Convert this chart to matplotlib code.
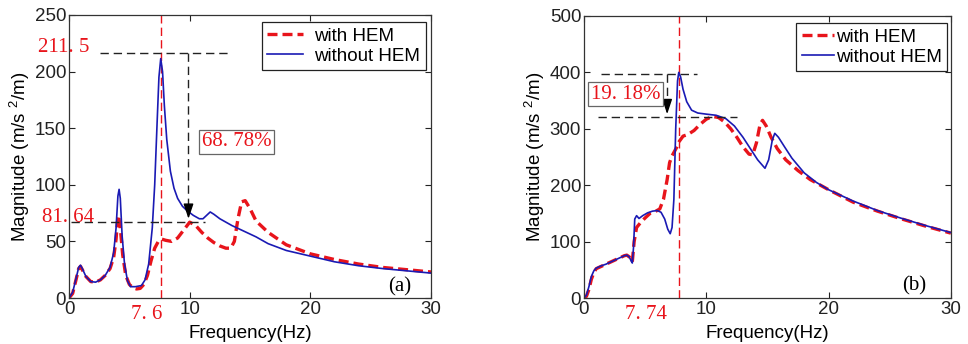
import matplotlib
matplotlib.use("Agg")
import matplotlib.pyplot as plt

plt.rcParams["font.family"] = ["Liberation Sans", "DejaVu Sans"]
plt.rcParams["mathtext.fontset"] = "custom"
plt.rcParams["mathtext.rm"] = "Liberation Sans"
plt.rcParams["mathtext.it"] = "Liberation Sans"

# ---- panel (a) ----
f_a_wo = [0, 0.3, 0.6, 0.8, 0.95, 1.1, 1.4, 1.8, 2.2, 2.6, 3.0, 3.4, 3.7, 3.9, 4.05,
          4.15, 4.25, 4.4, 4.6, 4.85, 5.1, 5.5, 6.0, 6.3, 6.6, 6.9, 7.1, 7.3, 7.45,
          7.6, 7.75, 7.9, 8.1, 8.4, 8.7, 9.0, 9.4, 9.8, 10.3, 10.8, 11.1, 11.4, 11.7,
          12.0, 12.5, 13.5, 14.5, 15.5, 16.5, 18, 20, 22, 24, 26, 28, 30]
m_a_wo = [0, 5, 18, 27, 29, 26, 19, 14.5, 14, 16, 20, 27, 40, 62, 90,
          96, 88, 55, 30, 15, 10, 10, 11, 16, 30, 62, 100, 155, 195,
          211.5, 200, 170, 140, 112, 97, 88, 81, 77, 73, 70, 70, 73, 76,
          74, 70, 64, 59, 54, 48, 42, 37, 32, 28.5, 26, 24, 22]

f_a_w = [0, 0.3, 0.6, 0.8, 0.95, 1.1, 1.4, 1.8, 2.2, 2.6, 3.0, 3.4, 3.7, 3.9, 4.0,
         4.1, 4.25, 4.45, 4.7, 5.0, 5.3, 5.6, 5.9, 6.2, 6.5, 6.8, 7.1, 7.4, 7.7,
         8.0, 8.5, 9.0, 9.5, 10.0, 10.5, 11.0, 11.5, 12.0, 12.5, 13.0, 13.4, 13.7,
         14.0, 14.3, 14.6, 15.0, 15.5, 16.5, 18, 20, 22, 24, 26, 28, 30]
m_a_w = [0, 4, 17, 26, 28, 25, 19, 14.5, 14, 16, 20, 26, 36, 52, 66,
         73, 62, 38, 20, 12, 9, 8, 8.5, 12, 20, 33, 44, 50, 52,
         51, 50, 53, 60, 67, 64, 58, 53, 49, 46, 44, 44, 50,
         70, 85, 86, 79, 68, 58, 47, 39, 34, 30, 27, 25, 23]

# ---- panel (b) ----
f_b_wo = [0, 0.2, 0.4, 0.6, 0.8, 1.0, 1.4, 1.8, 2.2, 2.6, 3.0, 3.3, 3.5, 3.7, 3.85,
          3.95, 4.05, 4.15, 4.3, 4.5, 4.8, 5.2, 5.6, 6.0, 6.3, 6.6, 6.85, 7.05, 7.2,
          7.35, 7.5, 7.65, 7.75, 7.9, 8.1, 8.4, 8.8, 9.3, 10.0, 10.8, 11.6, 12.3,
          13.0, 13.6, 14.2, 14.8, 15.1, 15.4, 15.6, 15.9, 16.4, 17.0, 18.0, 19.0,
          20.0, 22.0, 24.0, 26.0, 28.0, 30.0]
m_b_wo = [0, 5, 20, 38, 48, 53, 57, 60, 64, 68, 72, 75, 76, 73, 66,
          62, 90, 140, 146, 141, 146, 151, 154, 155, 152, 140, 122, 114, 125,
          175, 300, 385, 400, 392, 370, 348, 333, 328, 326, 324, 318, 305,
          285, 265, 245, 230, 245, 280, 292, 285, 268, 248, 222, 205,
          192, 172, 155, 141, 128, 116]

f_b_w = [0, 0.2, 0.4, 0.6, 0.8, 1.0, 1.4, 1.8, 2.2, 2.6, 3.0, 3.3, 3.5, 3.7, 3.85,
         3.95, 4.1, 4.3, 4.6, 5.0, 5.4, 5.8, 6.2, 6.5, 6.8, 7.0, 7.2, 7.4, 7.6,
         7.8, 8.1, 8.5, 9.0, 9.5, 10.0, 10.5, 11.0, 11.5, 12.0, 12.5, 13.0, 13.5,
         13.8, 14.1, 14.4, 14.6, 14.9, 15.3, 15.8, 16.5, 17.5, 18.5, 20.0, 22.0,
         24.0, 26.0, 28.0, 30.0]
m_b_w = [0, 3, 15, 33, 45, 52, 56, 60, 64, 68, 72, 75, 76, 73, 67,
         64, 100, 125, 133, 142, 150, 153, 158, 175, 210, 240, 252, 260, 268,
         278, 287, 290, 297, 308, 317, 322, 320, 312, 300, 285, 268, 255,
         254, 275, 308, 315, 305, 285, 265, 245, 226, 210, 192, 170,
         154, 140, 127, 115]

# annotation values
peak_a, reduced_a, f_peak_a, pct_a = "211. 5", "81. 64", 7.6, "68. 78%"
f_peak_b, pct_b = 7.74, "19. 18%"
label_a, label_b = "7. 6", "7. 74"
line_a = [216.5, 67.5]
line_b = [397, 321]

RED = "#e8141b"
BLUE = "#1a1ab4"
serif = ["Liberation Serif", "DejaVu Serif"]

fig = plt.figure(figsize=(9.68, 3.44), dpi=100)
ax1 = fig.add_axes([0.0713, 0.1337, 0.374, 0.8227])
ax2 = fig.add_axes([0.6033, 0.1337, 0.379, 0.8198])


def style(ax, ymax, ystep):
    ax.set_xlim(0, 30)
    ax.set_ylim(0, ymax)
    ax.set_xticks([0, 10, 20, 30])
    ax.set_yticks(range(0, ymax + 1, ystep))
    ax.tick_params(direction="in", top=True, right=True, labelsize=13.5,
                   length=4, width=0.8, colors="#222222", pad=2)
    for s in ax.spines.values():
        s.set_color("#333333")
        s.set_linewidth(0.9)
    ax.set_xlabel("Frequency(Hz)", fontsize=13.5, labelpad=5)
    ax.set_ylabel("Magnitude (m/s $^{2}$/m)", fontsize=13.5, labelpad=2)


# ---- (a) ----
ax1.plot(f_a_w, m_a_w, "--", color=RED, lw=2.4, dashes=(3, 1.5), label="with HEM")
ax1.plot(f_a_wo, m_a_wo, "-", color=BLUE, lw=1.2, label="without HEM")
style(ax1, 250, 50)
ax1.axvline(f_peak_a, color=RED, lw=1, ls=(0, (6, 3)), zorder=1)
ax1.plot([2.6, 13.2], [line_a[0]] * 2, color="#222222", lw=1, ls=(0, (6, 3.5)))
ax1.plot([0.2, 11.3], [line_a[1]] * 2, color="#222222", lw=1, ls=(0, (6, 3.5)))
ax1.plot([9.9, 9.9], [line_a[0], line_a[1] + 8], color="#222222", lw=1, ls=(0, (6, 3.5)))
ax1.annotate("", xy=(9.9, line_a[1]), xytext=(9.9, line_a[1] + 10),
             arrowprops=dict(arrowstyle="-|>,head_width=0.3,head_length=0.9",
                             color="black", lw=1))
ax1.text(-0.45, line_a[0] + 4.5, peak_a, color=RED, fontsize=15, family=serif,
         ha="center", va="center", clip_on=False)
ax1.text(-0.1, line_a[1] + 4, reduced_a, color=RED, fontsize=15, family=serif,
         ha="center", va="center", clip_on=False)
ax1.text(13.9, 138, pct_a, color=RED, fontsize=15, family=serif, ha="center", va="center",
         bbox=dict(boxstyle="square,pad=0.12", fc="white", ec="#666666", lw=0.9))
ax1.text(6.4, -0.057, label_a, color=RED, fontsize=15, family=serif,
         ha="center", va="center", transform=ax1.get_xaxis_transform())
ax1.text(27.4, 10, "(a)", color="black", fontsize=15, family=serif, ha="center", va="center")
leg1 = ax1.legend(loc="upper right", fontsize=13.5, handlelength=1.9, handletextpad=0.6,
                  borderpad=0.3, labelspacing=0.15, fancybox=False, framealpha=1,
                  bbox_to_anchor=(0.985, 0.975), borderaxespad=0)
leg1.get_frame().set_edgecolor("#222222")
leg1.get_frame().set_linewidth(0.9)

# ---- (b) ----
ax2.plot(f_b_w, m_b_w, "--", color=RED, lw=2.4, dashes=(3, 1.5), label="with HEM")
ax2.plot(f_b_wo, m_b_wo, "-", color=BLUE, lw=1.2, label="without HEM")
style(ax2, 500, 100)
ax2.axvline(f_peak_b, color=RED, lw=1, ls=(0, (6, 3)), zorder=1)
ax2.plot([1.4, 9.2], [line_b[0]] * 2, color="#222222", lw=1, ls=(0, (6, 3.5)))
ax2.plot([1.15, 12.5], [line_b[1]] * 2, color="#222222", lw=1, ls=(0, (6, 3.5)))
ax2.plot([6.8, 6.8], [line_b[0], line_b[1] + 15], color="#222222", lw=1, ls=(0, (6, 3.5)))
ax2.annotate("", xy=(6.8, line_b[1]), xytext=(6.8, line_b[1] + 20),
             arrowprops=dict(arrowstyle="-|>,head_width=0.3,head_length=0.9",
                             color="black", lw=1))
ax2.text(3.4, 361, pct_b, color=RED, fontsize=15, family=serif, ha="center", va="center",
         bbox=dict(boxstyle="square,pad=0.12", fc="white", ec="#666666", lw=0.9))
ax2.text(5.1, -0.057, label_b, color=RED, fontsize=15, family=serif,
         ha="center", va="center", transform=ax2.get_xaxis_transform())
ax2.text(27.0, 22, "(b)", color="black", fontsize=15, family=serif, ha="center", va="center")
leg2 = ax2.legend(loc="upper right", fontsize=13.5, handlelength=1.7, handletextpad=0.1,
                  borderpad=0.3, labelspacing=0.15, fancybox=False, framealpha=1,
                  bbox_to_anchor=(0.99, 0.975), borderaxespad=0)
leg2.get_frame().set_edgecolor("#222222")
leg2.get_frame().set_linewidth(0.9)

fig.savefig("out.png", dpi=100, facecolor="white")
